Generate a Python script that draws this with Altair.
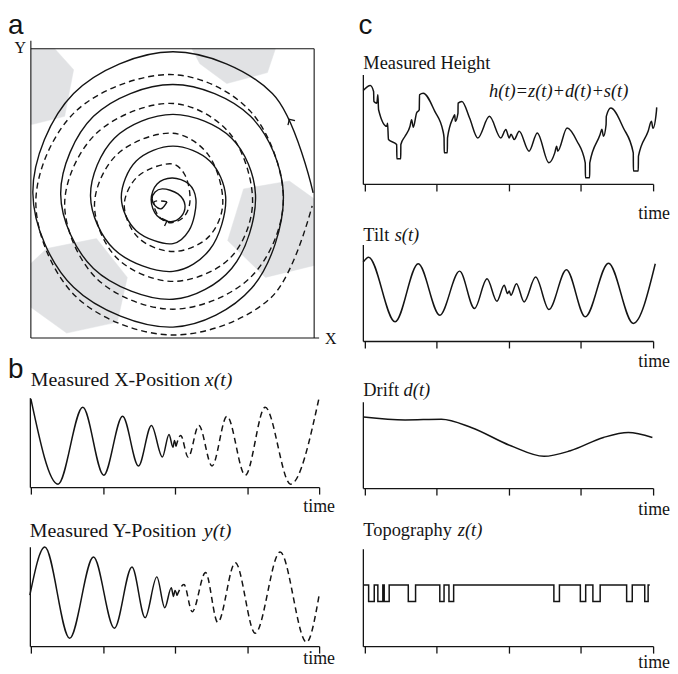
import altair as alt
import pandas as pd

SERIF = "Liberation Serif"
SANS = "Liberation Sans"
INK = "#141414"
GREY = "#e1e2e4"

# ===== panel a : raster spiral inside the scan box (box units, origin lower-left) =====
spiral_solid_x = [284, 243, 143, 43, 2, 43, 143, 222,
                  254, 221, 143, 63, 30, 63, 143, 202,
                  226, 202, 143, 84, 60, 84, 143, 180,
                  196, 180, 143, 106, 91, 106, 143, 159,
                  166, 159, 142, 127, 121, 127, 141, 151,
                  155, 148, 132, 125, 122, 125, 131, 137]
spiral_solid_y = [146, 246, 288, 246, 146, 51, 11, 50,
                  145, 223, 255, 223, 145, 70, 39, 70,
                  144, 201, 225, 201, 143, 89, 67, 89,
                  142, 178, 193, 178, 141, 108, 95, 108,
                  140, 155, 161, 155, 139, 123, 117, 122,
                  134, 145, 150, 147, 140, 133, 130, 137]
spiral_dash_x = [137, 124, 129, 141, 154, 160, 155, 143, 108, 94, 108, 143, 178, 193, 178, 143,
                 87, 64, 87, 143, 200, 223, 200, 143, 66, 34, 66, 143, 221, 254, 221, 143,
                 45, 5, 45, 143, 242, 283]
spiral_dash_y = [137, 137, 122, 116, 122, 137, 164, 175, 163, 134, 101, 87, 101, 134, 185, 206,
                 185, 134, 80, 57, 80, 135, 206, 236, 206, 135, 60, 29, 61, 137, 228, 265,
                 228, 137, 42, 3, 41, 133]

hex_id = ["A"] * 6 + ["B"] * 5 + ["C"] * 6 + ["D"] * 7
hex_x = [0, 24, 43, 34, 2, 0,
         162, 246, 238, 197, 170,
         214, 260, 285, 285, 236, 198,
         16, 66, 97, 87, 36, 0, 0]
hex_y = [291, 291, 270, 223, 215, 215,
         291, 291, 267, 256, 276,
         150, 158, 140, 73, 61, 98,
         90, 100, 61, 16, 5, 31, 75]

frame_x = [0, 0, 0, 285]
frame_y = [0, 0, 291, 0]
frame_x2 = [0, 290, 285, 285]
frame_y2 = [299, 0, 291, 291]

arrow_x = [260, 137]
arrow_y = [220, 118]
arrow_angle = [328, 70]

# ===== panel b : measured positions =====
xt_solid_t = [0, 0.377, 0.721, 1.011, 1.273, 1.494, 1.673, 1.825, 1.917, 1.972, 1.993, 2.014]
xt_solid_v = [88.7, 3, 80.3, 12, 71.3, 21.3, 62, 30.3, 53, 40, 47, 41]
xt_dash_t = [2.014, 2.079, 2.183, 2.331, 2.514, 2.721, 2.975, 3.251, 3.604, 4.0]
xt_dash_v = [41, 52, 30, 62, 21.3, 71.3, 12, 80.3, 3, 90]

yt_solid_t = [-0.014, 0.193, 0.538, 0.869, 1.159, 1.403, 1.586, 1.748, 1.858, 1.949, 1.979, 2.0, 2.028]
yt_solid_v = [51.3, 99.7, 8, 89.7, 18, 79.7, 28.7, 69.7, 38.7, 58.7, 50, 56, 51]
yt_dash_t = [2.028, 2.124, 2.239, 2.424, 2.593, 2.837, 3.113, 3.458, 3.825, 4.0]
yt_dash_v = [51, 62, 34.7, 74, 24, 84, 13, 94.7, 4, 51.3]

# ===== panel c : height decomposition =====
h_t = [-0.02, 0.078, 0.124, 0.128, 0.169, 0.183, 0.193, 0.307, 0.318, 0.330, 0.444, 0.447, 0.500,
       0.502, 0.560, 0.629, 0.651, 0.674, 0.720, 0.757, 0.761, 0.812, 0.973, 1.087, 1.101, 1.104,
       1.146, 1.149, 1.225, 1.249, 1.257, 1.294, 1.296, 1.349, 1.455, 1.569, 1.730, 1.889, 1.958,
       2.005, 2.030, 2.074, 2.143, 2.280, 2.394, 2.555, 2.635, 2.663, 2.677, 2.807, 2.945, 3.059,
       3.062, 3.120, 3.122, 3.265, 3.289, 3.312, 3.348, 3.351, 3.413, 3.588, 3.725, 3.727, 3.794,
       3.797, 3.931, 3.977, 3.998, 4.046, 4.050]
h_v = [94, 99, 93, 83, 81.3, 89.7, 74.7, 58, 61, 44.7, 39.7, 25.3, 25.3,
       39.7, 48, 58, 64.7, 57, 71.3, 74.7, 89.7, 91.3, 73, 53, 46.3, 31.3,
       31.3, 46.3, 66.3, 69.7, 63, 71.3, 81.3, 83, 66.3, 46.3, 68, 46.3, 54.7,
       46.3, 50, 44.7, 53, 33, 51.3, 21.3, 31, 38, 33, 56.3, 43, 21.3,
       6.3, 6.3, 21.3, 49.7, 55, 48, 59.7, 68, 76.3, 56.3, 31.3, 13, 13,
       28, 53, 63, 56, 73, 77]

s_t = [-0.02, 0.055, 0.422, 0.743, 1.042, 1.317, 1.523, 1.697, 1.834, 1.936, 1.982, 2.005, 2.027,
       2.105, 2.211, 2.371, 2.555, 2.798, 3.059, 3.381, 3.725, 4.03]
s_v = [79.3, 84.3, 19.3, 77.7, 26, 70.3, 32.7, 62.7, 40, 56, 47.7, 50.3, 46,
       57.7, 39.3, 64.3, 31.7, 71.7, 24.3, 78.3, 17.7, 77.7]

d_t = [-0.014, 0.56, 1.064, 1.477, 2.027, 2.487, 2.853, 3.312, 3.656, 3.99]
d_v = [71.6, 68.6, 69.3, 61, 42.6, 32, 37.6, 51, 56, 51]

Z_HI, Z_LO = 61.6, 45
z_t = [-0.014, 0.055, 0.133, 0.183, 0.252, 0.271, 0.340, 0.605, 0.706, 1.042, 1.101, 1.169, 1.234,
       2.624, 2.701, 2.991, 3.065, 3.165, 3.266, 3.633, 3.711, 3.884, 3.931, 3.954]
z_v = [Z_HI, Z_LO, Z_HI, Z_LO, Z_HI, Z_LO, Z_HI, Z_LO, Z_HI, Z_LO, Z_HI, Z_LO, Z_HI,
       Z_LO, Z_HI, Z_LO, Z_HI, Z_LO, Z_HI, Z_LO, Z_HI, Z_LO, Z_HI, Z_HI]


# ---------- helpers ----------
def txt(s, x, y, size, italic=False, font=SERIF, align="left"):
    return alt.Chart(pd.DataFrame({"s": [s]})).mark_text(
        text=s, align=align, baseline="alphabetic", font=font, fontSize=size,
        fontStyle="italic" if italic else "normal", color=INK
    ).encode(x=alt.value(x), y=alt.value(y))


def x_time(domain):
    return alt.X("t:Q", scale=alt.Scale(domain=domain, nice=False, zero=False),
                 axis=alt.Axis(values=[0, 1, 2, 3, 4], ticks=True, tickSize=7, labels=False,
                               title=None, grid=False, domainColor=INK, tickColor=INK,
                               domainWidth=1.3, tickWidth=1.3, minExtent=0))


def y_val(top):
    return alt.Y("v:Q", scale=alt.Scale(domain=[0, top], nice=False, zero=False),
                 axis=alt.Axis(ticks=False, labels=False, title=None, grid=False,
                               domainColor=INK, domainWidth=1.3, minExtent=0))


def series(t, v, xdom, ytop, dash=False, interp="monotone"):
    kw = dict(color=INK, strokeWidth=1.5, interpolate=interp)
    if dash:
        kw["strokeDash"] = [6, 4]
    return alt.Chart(pd.DataFrame({"t": t, "v": v})).mark_line(**kw).encode(
        x=x_time(xdom), y=y_val(ytop))


def spacer(h):
    return alt.Chart(pd.DataFrame({"s": [0]})).mark_point(opacity=0).encode(
        x=alt.value(0), y=alt.value(0)).properties(width=292, height=h)


LX = [-0.014, 4]
RX = [-0.025, 4]

# ---------- panel a ----------
xa = alt.X("x:Q", scale=alt.Scale(domain=[-1, 285], nice=False, zero=False), axis=None)
ya = alt.Y("y:Q", scale=alt.Scale(domain=[0, 291], nice=False, zero=False), axis=None)

hex_df = pd.DataFrame({"hex": hex_id, "x": hex_x, "y": hex_y, "i": list(range(len(hex_id)))})
hexes = alt.Chart(hex_df).mark_line(
    fill=GREY, stroke=GREY, strokeWidth=0.5, interpolate="linear-closed"
).encode(x=xa, y=ya, detail="hex:N", order="i:Q")

sol_df = pd.DataFrame({"x": spiral_solid_x, "y": spiral_solid_y, "i": list(range(len(spiral_solid_x)))})
dsh_df = pd.DataFrame({"x": spiral_dash_x, "y": spiral_dash_y, "i": list(range(len(spiral_dash_x)))})
sol = alt.Chart(sol_df).mark_line(interpolate="catmull-rom", color=INK, strokeWidth=1.4).encode(
    x=xa, y=ya, order="i:Q")
dsh = alt.Chart(dsh_df).mark_line(interpolate="catmull-rom", color=INK, strokeWidth=1.4,
                                  strokeDash=[6, 4]).encode(x=xa, y=ya, order="i:Q")

frame_df = pd.DataFrame({"x": frame_x, "y": frame_y, "x2": frame_x2, "y2": frame_y2})
frame = alt.Chart(frame_df).mark_rule(color=INK, strokeWidth=1.1).encode(
    x=xa, y=ya, x2="x2:Q", y2="y2:Q")

arr_df = pd.DataFrame({"x": arrow_x, "y": arrow_y, "ang": arrow_angle})
arrows = alt.Chart(arr_df).mark_point(
    shape="M-1,1L0,0L1,1", filled=False, size=70, color=INK, strokeWidth=1.3, opacity=1
).encode(x=xa, y=ya, angle=alt.Angle("ang:Q", scale=None))

panel_a = alt.layer(
    hexes, sol, dsh, frame, arrows,
    txt("a", -22, -15, 28, font=SANS),
    txt("Y", -4, 4, 16, align="right"),
    txt("X", 297, 297, 16),
).properties(width=286, height=291)

# ---------- panel b ----------
panel_bx = alt.layer(
    series(xt_solid_t, xt_solid_v, LX, 90),
    series(xt_dash_t, xt_dash_v, LX, 90, dash=True),
    txt("b", -22, -20, 28, font=SANS),
    txt("Measured X-Position", 1, -12, 20),
    txt("x(t)", 176, -12, 20, italic=True),
    txt("time", 307, 115, 18, align="right"),
).properties(width=291, height=90)

panel_by = alt.layer(
    series(yt_solid_t, yt_solid_v, LX, 100),
    series(yt_dash_t, yt_dash_v, LX, 100, dash=True),
    txt("Measured Y-Position", 0, -10, 20),
    txt("y(t)", 175, -10, 20, italic=True),
    txt("time", 307, 118, 18, align="right"),
).properties(width=291, height=100)

# ---------- panel c ----------
panel_h = alt.layer(
    series(h_t, h_v, RX, 110),
    txt("c", -4.5, -41, 28, font=SANS),
    txt("Measured Height", 0.5, -6, 18.5),
    txt("h(t)=z(t)+d(t)+s(t)", 127, 23, 18.5, italic=True),
    txt("time", 309, 145, 18, align="right"),
).properties(width=292, height=110)

panel_s = alt.layer(
    series(s_t, s_v, RX, 97),
    txt("Tilt", 0.5, -4, 18.5),
    txt("s(t)", 32, -4, 18.5, italic=True),
    txt("time", 309, 123, 18, align="right"),
).properties(width=292, height=97)

panel_d = alt.layer(
    series(d_t, d_v, RX, 87),
    txt("Drift", 0.5, -6, 18.5),
    txt("d(t)", 41, -6, 18.5, italic=True),
    txt("time", 309, 114, 18, align="right"),
).properties(width=292, height=87)

panel_z = alt.layer(
    series(z_t, z_v, RX, 98, interp="step-after"),
    txt("Topography", 0.5, -13, 18.5),
    txt("z(t)", 95.5, -13, 18.5, italic=True),
    txt("time", 309, 120, 18, align="right"),
).properties(width=292, height=98)

left = alt.vconcat(panel_a, panel_bx, panel_by, spacing=60, bounds="flush")
right = alt.vconcat(spacer(26), panel_h, spacer(61), panel_s, spacer(61), panel_d,
                    spacer(61), panel_z, spacing=0, bounds="flush")

chart = alt.hconcat(left, right, spacing=21, bounds="full").properties(
    padding={"left": 0, "top": 2, "right": 0, "bottom": 0}
).configure_view(stroke=None)

chart.save("out.html", embed_options={"renderer": "svg", "actions": False})
